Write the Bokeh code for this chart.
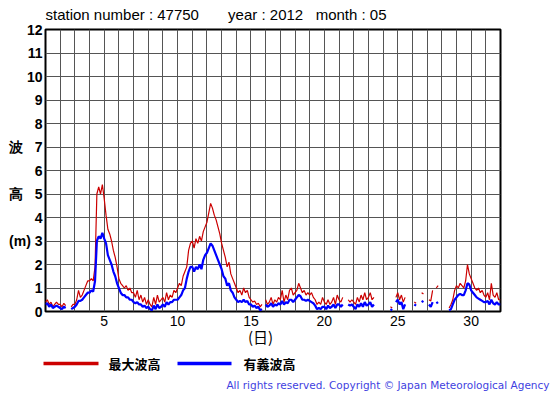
import numpy as np
from bokeh.plotting import figure
from bokeh.models import Range1d, FixedTicker
from bokeh.layouts import column
from bokeh.core.properties import value
from bokeh.embed import file_html
from bokeh.resources import INLINE

N = None
# 3-hourly values (hours 0,3,...,21) for May 1..31 2012, plus June 1 00h
max_wave = [
    0.4, 0.5, 0.3, 0.4, 0.2, 0.3, 0.4, 0.3,      # 1
    0.3, 0.2, 0.35, 0.25, N, N, 0.2, 0.3,        # 2
    0.3, 0.5, 0.9, 0.6, 0.7, 0.9, 1.1, 1.3,      # 3
    1.3, 1.4, 1.3, 1.9, 5.0, 5.3, 5.0, 5.4,      # 4
    4.8, 4.1, 3.5, 3.3, 3.0, 2.6, 2.3, 1.9,      # 5
    1.4, 1.2, 1.1, 1.0, 1.1, 0.9, 1.0, 0.8,      # 6
    0.8, 0.6, 0.9, 0.5, 0.7, 0.4, 0.6, 0.3,      # 7
    0.5, 0.3, 0.2, 0.6, 0.3, 0.7, 0.4, 0.5,      # 8
    0.6, 0.4, 0.8, 0.5, 0.7, 0.6, 0.9, 0.8,      # 9
    1.0, 1.2, 1.1, 1.5, 1.7, 1.9, 2.6, 2.9,      # 10
    3.0, 2.7, 3.1, 2.9, 3.2, 3.0, 3.4, 3.6,      # 11
    3.8, 4.2, 4.6, 4.4, 4.1, 3.9, 3.6, 3.3,      # 12
    2.9, 2.6, 2.3, 1.9, 2.1, 1.6, 1.4, 1.2,      # 13
    1.0, 0.8, 0.9, 0.7, 1.0, 0.8, 0.9, 0.6,      # 14
    0.5, 0.4, 0.45, 0.3, 0.35, 0.2, 0.3, N,      # 15
    0.5, 0.3, 0.4, 0.6, 0.3, 0.5, 0.4, 0.6,      # 16
    0.5, 0.9, 0.4, 0.7, 0.5, 0.9, 1.0, 0.7,      # 17
    0.8, 0.9, 1.2, 1.0, 0.8, 0.9, 0.7, 0.8,      # 18
    0.7, 0.8, 0.6, 0.5, 0.3, 0.4, 0.3, 0.6,      # 19
    0.4, 0.3, 0.5, 0.3, 0.4, 0.6, 0.3, 0.7,      # 20
    0.5, 0.4, 0.6, N, N, 0.5, 0.4, 0.5,          # 21
    0.4, 0.3, 0.6, 0.4, 0.7, 0.5, 0.8, 0.5,      # 22
    0.6, 0.8, 0.5, 0.6, N, N, N, N,              # 23
    N, N, N, N, 0.2, 0.15, N, 0.6,               # 24
    0.8, 0.5, 0.7, 0.4, 0.6, N, N, N,            # 25
    N, 0.4, 0.35, N, N, 0.8, 0.75, N,            # 26
    N, 0.5, 0.45, 0.9, N, 1.0, 1.1, N,           # 27
    N, N, N, N, 0.15, 0.3, 0.5, 0.9,             # 28
    1.1, 1.0, 1.2, 1.1, 1.0, 1.3, 2.0, 1.6,      # 29
    1.4, 1.2, 1.0, 0.9, 1.0, 0.8, 0.9, 0.7,      # 30
    0.6, 0.8, 0.5, 1.2, 0.7, 0.6, 0.8, 0.5,      # 31
    0.5,
]
sig_wave = [
    0.3, 0.35, 0.2, 0.3, 0.15, 0.2, 0.25, 0.2,   # 1
    0.15, 0.1, 0.2, 0.15, N, N, 0.1, 0.15,       # 2
    0.2, 0.3, 0.45, 0.45, 0.5, 0.6, 0.7, 0.8,    # 3
    0.8, 0.9, 0.85, 1.3, 3.0, 3.2, 3.1, 3.35,    # 4
    3.1, 2.9, 2.4, 2.2, 2.0, 1.7, 1.5, 1.2,      # 5
    1.0, 0.8, 0.7, 0.7, 0.6, 0.6, 0.5, 0.5,      # 6
    0.4, 0.35, 0.4, 0.3, 0.3, 0.2, 0.25, 0.15,   # 7
    0.2, 0.1, 0.05, 0.25, 0.1, 0.3, 0.15, 0.2,   # 8
    0.3, 0.2, 0.4, 0.3, 0.4, 0.4, 0.5, 0.5,      # 9
    0.5, 0.6, 0.7, 0.9, 1.0, 1.4, 1.7, 1.9,      # 10
    1.9, 1.7, 1.9, 1.8, 2.0, 1.8, 2.2, 2.4,      # 11
    2.5, 2.7, 2.9, 2.8, 2.6, 2.4, 2.2, 2.0,      # 12
    1.8, 1.5, 1.4, 1.1, 1.2, 0.9, 0.8, 0.6,      # 13
    0.5, 0.4, 0.45, 0.4, 0.5, 0.4, 0.45, 0.3,    # 14
    0.3, 0.2, 0.25, 0.15, 0.2, 0.05, 0.1, N,     # 15
    0.3, 0.2, 0.25, 0.35, 0.2, 0.3, 0.25, 0.35,  # 16
    0.3, 0.45, 0.3, 0.4, 0.35, 0.5, 0.5, 0.4,    # 17
    0.5, 0.6, 0.7, 0.65, 0.5, 0.5, 0.45, 0.5,    # 18
    0.45, 0.4, 0.35, 0.25, 0.1, 0.15, 0.1, 0.2,  # 19
    0.2, 0.1, 0.25, 0.15, 0.2, 0.3, 0.15, 0.3,   # 20
    0.3, 0.2, 0.3, N, N, 0.3, 0.25, 0.3,         # 21
    0.2, 0.1, 0.3, 0.2, 0.35, 0.2, 0.4, 0.25,    # 22
    0.3, 0.4, 0.2, 0.3, N, N, N, N,              # 23
    N, N, N, N, 0.1, 0.05, N, 0.4,               # 24
    0.5, 0.3, 0.4, 0.1, 0.3, N, N, N,            # 25
    N, 0.3, 0.25, N, N, 0.45, 0.4, N,            # 26
    N, 0.3, 0.2, 0.4, N, 0.35, 0.4, N,           # 27
    N, N, N, N, 0.05, 0.1, 0.3, 0.5,             # 28
    0.6, 0.7, 0.75, 0.7, 0.7, 0.9, 1.2, 1.15,    # 29
    0.9, 0.8, 0.7, 0.6, 0.55, 0.5, 0.45, 0.4,    # 30
    0.4, 0.45, 0.3, 0.5, 0.35, 0.3, 0.4, 0.3,    # 31
    0.3,
]
x_tick_days = [5, 10, 15, 20, 25, 30]
y_ticks = list(range(0, 13))
NB = "\u00a0"
y_tick_labels = {7: "波" + NB * 3 + "7", 5: "高" + NB * 3 + "5",
                 3: "(m)" + NB + "3"}
title_text = ("station number : 47750" + NB * 7 + "year : 2012" + NB * 3
              + "month : 05")
x_label = "(日)" + "\u3000" + NB * 3
legend_labels = ["最大波高", "有義波高"]
copyright_text = "All rights reserved. Copyright © Japan Meteorological Agency"

days = 1 + np.arange(len(max_wave)) / 8.0
red = np.array([np.nan if v is None else v for v in max_wave], dtype=float)
blue = np.array([np.nan if v is None else v for v in sig_wave], dtype=float)

FONT = "Liberation Sans"
JP = "Noto Sans CJK JP"
RED = "#cc0000"
BLUE = "#0000ff"

W, H_MAIN, H_FOOT = 555, 352, 43

p = figure(width=W, height=H_MAIN, output_backend="svg", toolbar_location=None,
           x_range=Range1d(1, 32), y_range=Range1d(0, 12),
           min_border_left=45, min_border_right=55, min_border_top=29,
           min_border_bottom=H_MAIN - 311, background_fill_color="white",
           border_fill_color="white")
p.frame_align = False
p.outline_line_color = "black"
p.outline_line_width = 2

# title
p.title.text = title_text
p.title.text_font = FONT
p.title.text_font_size = "15px"
p.title.text_font_style = "normal"
p.title.text_color = "black"
p.title.align = "left"
p.title.vertical_align = "top"
p.title.standoff = 9

# axes
p.xaxis.ticker = FixedTicker(ticks=x_tick_days)
p.yaxis.ticker = FixedTicker(ticks=y_ticks)
p.yaxis.major_label_overrides = y_tick_labels
for ax in (p.xaxis, p.yaxis):
    ax.axis_line_color = None
    ax.major_tick_line_color = None
    ax.minor_tick_line_color = None
    ax.major_tick_out = 0
    ax.major_tick_in = 0
    ax.major_label_text_font = FONT
    ax.major_label_text_font_size = "14px"
    ax.major_label_text_color = "black"
p.xaxis.major_label_standoff = 4
p.yaxis.major_label_text_font_style = "bold"
p.yaxis.major_label_standoff = 3
p.xaxis.axis_label = x_label
p.xaxis.axis_label_text_font = JP
p.xaxis.axis_label_text_font_size = "15px"
p.xaxis.axis_label_text_font_style = "normal"
p.xaxis.axis_label_text_color = "black"
p.xaxis.axis_label_standoff = -3

# grid
p.xgrid.ticker = FixedTicker(ticks=list(range(1, 33)))
p.ygrid.ticker = FixedTicker(ticks=y_ticks)
for g in (p.xgrid, p.ygrid):
    g.grid_line_color = "#555555"
    g.grid_line_width = 1

# data
p.line(days, red, line_color=RED, line_width=1.2)
p.line(days, blue, line_color=BLUE, line_width=2.2)

# footer: legend keys and copyright
f = figure(width=W, height=H_FOOT, output_backend="svg", toolbar_location=None,
           x_range=Range1d(0, W), y_range=Range1d(H_FOOT, 0),
           x_axis_type=None, y_axis_type=None,
           min_border_left=0, min_border_right=0, min_border_top=0,
           min_border_bottom=0, background_fill_color="white",
           border_fill_color="white")
f.frame_align = False
f.outline_line_color = None
f.xgrid.visible = False
f.ygrid.visible = False
f.segment(x0=[43, 177], y0=[11, 11], x1=[98, 231], y1=[11, 11],
          line_color=[RED, BLUE], line_width=3.5)
f.text(x=[108, 243], y=[11, 11], text=legend_labels,
       text_font=value(JP), text_font_size="13px", text_font_style="bold",
       text_color="black", text_align="left", text_baseline="middle")
f.text(x=[549], y=[32], text=[copyright_text],
       text_font=value("DejaVu Sans"), text_font_size="10.5px",
       text_color="#3f3fdf", text_align="right", text_baseline="middle")

open("out.html", "w").write(file_html(column(p, f, spacing=0), INLINE))
